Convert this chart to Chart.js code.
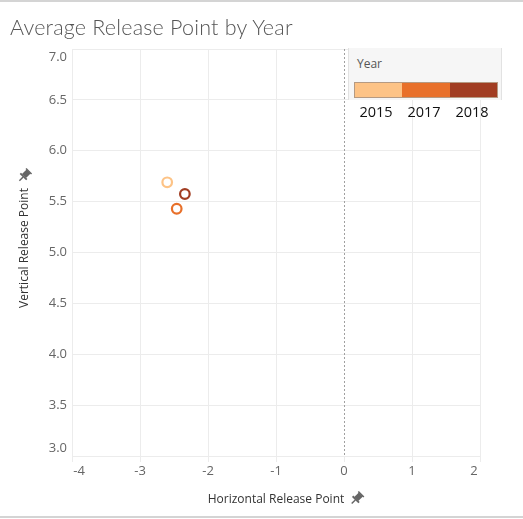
<!DOCTYPE html>
<html>
<head>
<meta charset="utf-8">
<script src="https://cdn.jsdelivr.net/npm/chart.js@4.4.1/dist/chart.umd.min.js"></script>
<style>
  html, body { margin:0; padding:0; background:#fff; }
  body { width:523px; height:519px; position:relative; overflow:hidden; font-family:"Lato","Open Sans",sans-serif; }
  #topline { position:absolute; left:0; top:0; width:523px; height:2px; background:#d4d4d4; }
  #botline { position:absolute; left:0; top:516px; width:523px; height:2px; background:#d4d4d4; }
  #title { position:absolute; left:10px; top:14px; font-size:21.5px; color:#555; font-family:"Lato",sans-serif; font-weight:300; letter-spacing:0.2px; white-space:nowrap; }
  #wrap { position:absolute; left:0; top:0; width:523px; height:519px; }
  #legend { position:absolute; left:348px; top:48px; width:154px; height:52px; background:#f6f6f6; border-left:1px solid #e2e2e2; border-right:1px solid #e2e2e2; box-sizing:border-box; }
  #legtitle { position:absolute; left:8px; top:7px; font-size:12px; color:#555; font-family:"Open Sans",sans-serif; }
  #legbar { position:absolute; left:5px; top:34px; width:144px; height:16px; border:1px solid #b59a82; box-sizing:border-box; display:flex; }
  #legbar div { flex:1; height:100%; }
  #leglabels { position:absolute; left:352px; top:102px; width:148px; height:20px; }
  #leglabels span { position:absolute; top:0; font-size:14.5px; color:#111; font-family:"Open Sans",sans-serif; transform:translateX(-50%); }
</style>
</head>
<body>
<div id="wrap"><canvas id="c" width="523" height="519"></canvas></div>
<div id="topline"></div>
<div id="botline"></div>
<div id="title">Average Release Point by Year</div>
<div id="legend"><div id="legtitle">Year</div><div id="legbar"></div></div>
<div id="leglabels"></div>
<script>
// ---- data ----
const years = ["2015", "2017", "2018"];
const horizontal = [-2.60, -2.46, -2.34];
const vertical = [5.69, 5.43, 5.575];
const yearColors = ["#fdc386", "#e8702a", "#a13d22"];
const xTicks = [-4, -3, -2, -1, 0, 1, 2];
const yTicks = [3.0, 3.5, 4.0, 4.5, 5.0, 5.5, 6.0, 6.5, 7.0];
const chartTitle = "Average Release Point by Year";
const xTitle = "Horizontal Release Point";
const yTitle = "Vertical Release Point";

// legend
const bar = document.getElementById('legbar');
const labs = document.getElementById('leglabels');
years.forEach((y, i) => {
  const d = document.createElement('div'); d.style.background = yearColors[i]; bar.appendChild(d);
  const s = document.createElement('span'); s.textContent = y;
  s.style.left = (24 + i * 48) + 'px'; labs.appendChild(s);
});

function drawPin(ctx, x, y, s) {
  ctx.save();
  ctx.translate(x, y);
  ctx.rotate(Math.PI / 4);
  ctx.fillStyle = '#666';
  ctx.strokeStyle = '#666';
  ctx.beginPath();
  ctx.rect(-2.2 * s, -5 * s, 4.4 * s, 5 * s);
  ctx.fill();
  ctx.fillRect(-3.5 * s, -0.2 * s, 7 * s, 1.4 * s);
  ctx.lineWidth = 1.1 * s;
  ctx.beginPath(); ctx.moveTo(0, 1 * s); ctx.lineTo(0, 5 * s); ctx.stroke();
  ctx.fillRect(-3 * s, -5.8 * s, 6 * s, 1.2 * s);
  ctx.restore();
}

const extras = {
  id: 'extras',
  beforeDatasetsDraw(chart) {
    const ctx = chart.ctx, xs = chart.scales.x, a = chart.chartArea;
    const x0 = xs.getPixelForValue(0);
    ctx.save();
    ctx.strokeStyle = '#a0a0a0';
    ctx.lineWidth = 1;
    ctx.setLineDash([2, 2]);
    ctx.beginPath(); ctx.moveTo(Math.round(x0) + 0.5, a.top); ctx.lineTo(Math.round(x0) + 0.5, a.bottom); ctx.stroke();
    ctx.restore();
  },
  afterDraw(chart) {
    const ctx = chart.ctx, xs = chart.scales.x, ys = chart.scales.y, a = chart.chartArea;
    ctx.save();
    ctx.fillStyle = '#666';
    ctx.font = '13px "Open Sans", sans-serif';
    ctx.textBaseline = 'middle';
    ctx.textAlign = 'right';
    yTicks.forEach(v => {
      let py = ys.getPixelForValue(v);
      py = Math.max(a.top + 8, Math.min(a.bottom - 8, py));
      ctx.fillText(v.toFixed(1), 67, py);
    });
    ctx.textAlign = 'center';
    xTicks.forEach(v => {
      let px = xs.getPixelForValue(v);
      px = Math.max(a.left + 7, Math.min(a.right - 6, px));
      ctx.fillText(String(v), px, 471);
    });
    ctx.fillStyle = '#333';
    ctx.font = '12px "Open Sans", sans-serif';
    ctx.textAlign = 'center';
    const cx = (a.left + a.right) / 2;
    ctx.fillText(xTitle, cx, 500);
    const w = ctx.measureText(xTitle).width;
    drawPin(ctx, cx + w / 2 + 12, 499, 1.3);
    ctx.save();
    ctx.translate(25, 248);
    ctx.rotate(-Math.PI / 2);
    ctx.fillText(yTitle, 0, 0);
    const wy = ctx.measureText(yTitle).width;
    ctx.restore();
    drawPin(ctx, 24, 248 - wy / 2 - 12, 1.3);
    ctx.restore();
  }
};

new Chart(document.getElementById('c'), {
  type: 'scatter',
  data: {
    datasets: [{
      data: horizontal.map((h, i) => ({ x: h, y: vertical[i] })),
      pointRadius: 4.8,
      pointHoverRadius: 4.8,
      pointBorderWidth: 2.2,
      pointBackgroundColor: 'rgba(255,255,255,0)',
      pointBorderColor: yearColors
    }]
  },
  options: {
    responsive: false,
    animation: false,
    events: [],
    layout: { padding: { left: 0, top: 49, right: 43, bottom: 0 } },
    plugins: { legend: { display: false }, tooltip: { enabled: false } },
    scales: {
      x: {
        type: 'linear', min: -4, max: 2,
        afterBuildTicks: s => { s.ticks = xTicks.map(v => ({ value: v })); },
        afterFit: s => { s.height = 63; },
        ticks: { display: false },
        grid: { color: ctx => ctx.tick && ctx.tick.value === 0 ? 'rgba(0,0,0,0)' : '#ececec', tickColor: '#ececec', tickLength: 6, drawTicks: true },
        border: { display: false }
      },
      y: {
        type: 'linear', min: 3, max: 7,
        afterBuildTicks: s => { s.ticks = yTicks.map(v => ({ value: v })); },
        afterFit: s => { s.width = 72; },
        ticks: { display: false },
        grid: { color: '#ececec', drawTicks: false },
        border: { display: false }
      }
    }
  },
  plugins: [extras]
});
</script>
</body>
</html>
